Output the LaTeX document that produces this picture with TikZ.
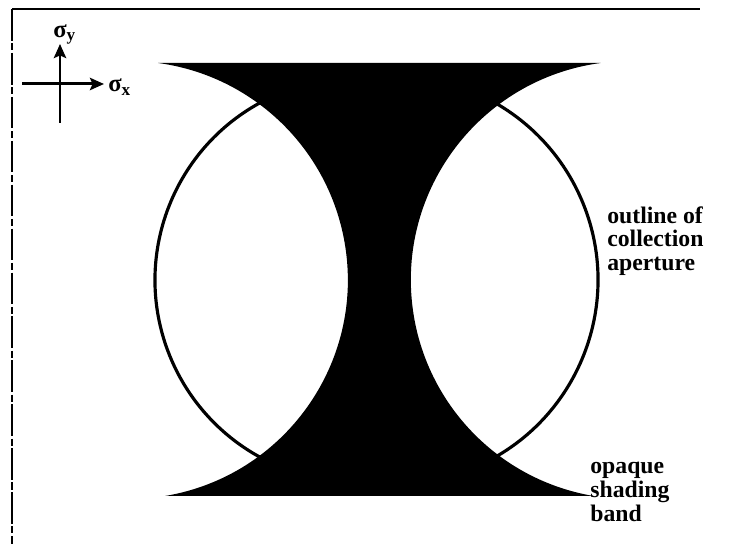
\documentclass[tikz,border=0pt]{standalone}
\usepackage{fontspec}
\setmainfont{Liberation Serif}
\usetikzlibrary{arrows.meta}
\begin{document}
\begin{tikzpicture}[x=0.02cm,y=0.02cm,>={Stealth[length=8pt,width=7pt,inset=1.5pt]},
  lbl/.style={font=\bfseries\fontsize{13.5}{13.5}\selectfont,align=left,inner sep=0pt},
  sig/.style={font=\bfseries\fontsize{14}{14}\selectfont,inner sep=0pt}]
\useasboundingbox (0,0) rectangle (734,544);
% Rahmen
\draw[line width=1.1pt] (12,535) -- (700,535);
\draw[line width=0.6pt,dash pattern=on 18pt off 1.5pt on 4pt off 1.5pt] (12,535) -- (12,0);
% Achsenkreuz
\coordinate (xa) at (22,460); \coordinate (xb) at (104,460);
\coordinate (ya) at (60,421); \coordinate (yb) at (60,500);
\draw[->,line width=1.7pt] (xa) -- (xb);
\draw[->,line width=1.7pt] (ya) -- (yb);
\node[sig,anchor=west] (sx) at (108,457) {σ\textsubscript{x}};
\node[sig,anchor=south west] (sy) at (53,499) {σ\textsubscript{y}};
% Apertur
\draw[line width=1.8pt] (357,264) ++(115:202) arc (115:245:202);
\draw[line width=1.8pt] (394,264) ++(-65:204) arc (-65:65:204);
% Schattierungsband
\fill (158.5,481) -- (600.5,481) arc (97.7:260.5:219) -- (165,48) arc (-80.5:82.3:219) -- cycle;
% Beschriftung
\node[lbl,anchor=north west] (apt) at (607,338) {outline of\\collection\\aperture};
\node[lbl,anchor=north west] (band) at (590,82) {opaque\\shading\\band};
\end{tikzpicture}
\end{document}
